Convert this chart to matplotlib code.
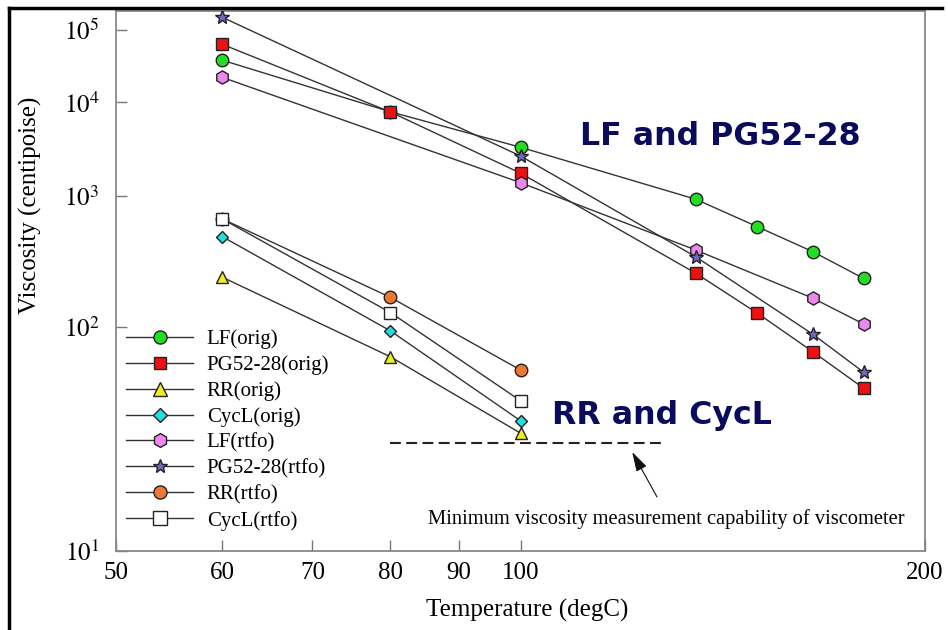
import numpy as np
import matplotlib
matplotlib.use("Agg")
import matplotlib.pyplot as plt
from matplotlib.lines import Line2D
from matplotlib.ticker import FixedLocator, FixedFormatter, NullLocator

plt.rcParams['font.family'] = ['Liberation Serif', 'DejaVu Serif']
plt.rcParams['mathtext.fontset'] = 'stix'

# ---------------- data ----------------
temps_orig = [60, 80, 100, 135, 150, 165, 180]
lf_orig = [36100, 7700, 3040, 925, 531, 333, 210]
pg_orig = [61200, 7670, 1640, 229, 122, 71, 45.1]

temps_rtfo_hi = [60, 100, 135, 165, 180]
lf_rtfo = [21000, 1324, 343, 153, 104]
pg_rtfo = [160000, 2455, 304, 90, 54.7]

temps_low = [60, 80, 100]
rr_orig = [214, 66.5, 27.5]
cycl_orig = [438, 94.4, 31.3]
rr_rtfo = [617, 155, 56.2]
cycl_rtfo = [617, 123, 39.0]

min_visc = 25
min_visc_temps = [80, 128]

x_ticks = [50, 60, 70, 80, 90, 100, 200]
x_ticklabels = ['50', '60', '70', '80', '90', '100', '200']
y_ticks = [1e1, 1e2, 1e3, 1e4, 1e5]
y_ticklabels = [r'$10^{1}$', r'$10^{2}$', r'$10^{3}$', r'$10^{4}$', r'$10^{5}$']

# ---------------- figure ----------------
fig = plt.figure(figsize=(9.48, 6.30), dpi=100)
ax = fig.add_axes([0.1224, 0.1254, 0.8534, 0.8571])

def fwd(y):
    y = np.asarray(y, dtype=float)
    with np.errstate(divide='ignore', invalid='ignore'):
        return np.log10(np.log10(np.clip(y, 1.000001, None)))

def inv(v):
    v = np.asarray(v, dtype=float)
    return 10 ** (10 ** v)

ax.set_xscale('log')
ax.set_yscale('function', functions=(fwd, inv))

lc = '#333333'
series = [
    ('LF(orig)', temps_orig, lf_orig, 'o', '#22dd22', 9),
    ('PG52-28(orig)', temps_orig, pg_orig, 's', '#ee1111', 8.5),
    ('RR(orig)', temps_low, rr_orig, '^', '#eeee22', 9),
    ('CycL(orig)', temps_low, cycl_orig, 'D', '#22dddd', 6.5),
    ('LF(rtfo)', temps_rtfo_hi, lf_rtfo, 'h', '#ee88ee', 9.5),
    ('PG52-28(rtfo)', temps_rtfo_hi, pg_rtfo, '*', '#6a6ac0', 10),
    ('RR(rtfo)', temps_low, rr_rtfo, 'o', '#ee7733', 9),
    ('CycL(rtfo)', temps_low, cycl_rtfo, 's', '#ffffff', 9),
]
handles = []
for (lab, xs, ys, m, c, ms) in series:
    ax.plot(xs, ys, color=lc, lw=1.0, zorder=2)
for i, (lab, xs, ys, m, c, ms) in enumerate(series):
    ax.plot(xs, ys, ls='none', marker=m, ms=ms, mfc=c, mec='#222222',
            mew=1.0, zorder=3 + i * 0.1)
for (lab, xs, ys, m, c, ms) in series:
    handles.append(Line2D([], [], color=lc, lw=1.0, marker=m, ms=ms * 1.05,
                          mfc=c, mec='#222222', mew=1.0, label=lab))

ax.plot(min_visc_temps, [min_visc, min_visc], color='#222222', lw=1.5,
        ls=(0, (5.2, 2.6)), zorder=2)

ax.set_xlim(50, 200)
top = 10 ** (10 ** 0.7248)
ax.set_ylim(10, top)

ax.xaxis.set_major_locator(FixedLocator(x_ticks))
ax.xaxis.set_major_formatter(FixedFormatter(x_ticklabels))
ax.xaxis.set_minor_locator(NullLocator())
ax.yaxis.set_major_locator(FixedLocator(y_ticks))
ax.yaxis.set_major_formatter(FixedFormatter(y_ticklabels))
ax.yaxis.set_minor_locator(NullLocator())

ax.tick_params(axis='both', direction='in', length=8, width=1.0,
               color='#777777', labelsize=18, top=False, right=False)
ax.tick_params(axis='x', pad=8)
ax.tick_params(axis='y', pad=12)
for s in ax.spines.values():
    s.set_color('#888888')
    s.set_linewidth(1.3)

ax.set_xlabel('Temperature (degC)', fontsize=18)
ax.set_ylabel('Viscosity (centipoise)', fontsize=18)
ax.xaxis.set_label_coords(0.508, -0.088)
ax.yaxis.set_label_coords(-0.092, 0.64)

leg = ax.legend(handles=handles, loc='lower left',
                bbox_to_anchor=(0.0, 0.0185),
                frameon=False, fontsize=15, handlelength=3.2,
                handletextpad=0.65, labelspacing=0.3, borderaxespad=0.1,
                borderpad=0.4)

navy = '#0b0b5e'
ax.text(0.7466, 0.7519, 'LF and PG52-28', transform=ax.transAxes,
        ha='center', va='baseline', fontsize=22.8, fontweight='bold',
        color=navy, family='DejaVu Sans')
ax.text(0.675, 0.2352, 'RR and CycL', transform=ax.transAxes,
        ha='center', va='baseline', fontsize=22.8, fontweight='bold',
        color=navy, family='DejaVu Sans')

ax.annotate('', xy=(0.638, 0.1833), xytext=(0.6687, 0.10),
            xycoords='axes fraction', textcoords='axes fraction',
            arrowprops=dict(arrowstyle='-|>,head_length=1.2,head_width=0.35',
                            color='#111111', lw=0.8, shrinkA=0, shrinkB=0))
ax.text(0.680, 0.0593, 'Minimum viscosity measurement capability of viscometer',
        transform=ax.transAxes, ha='center', va='center', fontsize=14.8)

# screenshot-style frame edges (top and left)
fig.add_artist(Line2D([8.5 / 948, 942 / 948], [1 - 8 / 630, 1 - 8 / 630],
                      transform=fig.transFigure, color='black', lw=2.5))
fig.add_artist(Line2D([8.5 / 948, 8.5 / 948], [1 - 8 / 630, 0],
                      transform=fig.transFigure, color='black', lw=2.5))

fig.savefig('out.png', dpi=100)
